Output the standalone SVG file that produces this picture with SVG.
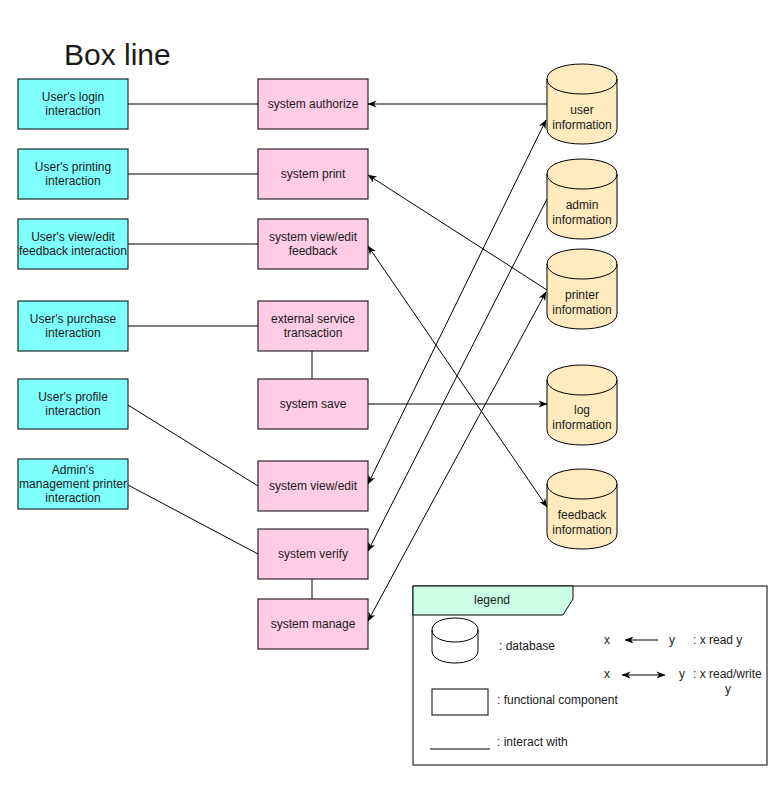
<svg xmlns="http://www.w3.org/2000/svg" xmlns:xlink="http://www.w3.org/1999/xlink" width="771" height="807" viewBox="0 0 771 807">
<style>
text{font-family:"Liberation Sans",Arial,sans-serif;font-size:12px;fill:#1a1a1a;text-anchor:middle}
.ui{fill:#80FFFF;stroke:#000;stroke-width:1}
.fn{fill:#FFCCE6;stroke:#000;stroke-width:1}
.db{fill:#FFEBBF;stroke:#000;stroke-width:1}
.ln{fill:none;stroke:#000;stroke-width:1}
.lt{text-anchor:start}
</style>
<defs>
<marker id="ah" viewBox="0 0 10 10" refX="9.5" refY="5" markerWidth="9" markerHeight="9" markerUnits="userSpaceOnUse" orient="auto-start-reverse">
<path d="M0,1 L10,5 L0,9 L3,5 Z" fill="#000"/>
</marker>
<g id="cyl">
<path d="M0,15 C0,-5 70,-5 70,15 L70,65 C70,85 0,85 0,65 Z" class="db"/>
<path d="M0,15 C0,35 70,35 70,15" class="ln"/>
</g>
</defs>
<rect width="771" height="807" fill="#fff"/>
<text x="64" y="65" class="lt" style="font-size:30px">Box line</text>

<g id="connectors">
<line x1="128" y1="104" x2="258" y2="104" class="ln"/>
<line x1="128" y1="174" x2="258" y2="174" class="ln"/>
<line x1="128" y1="244" x2="258" y2="244" class="ln"/>
<line x1="128" y1="326" x2="258" y2="326" class="ln"/>
<line x1="128" y1="405" x2="258" y2="486" class="ln"/>
<line x1="128" y1="485" x2="258" y2="554" class="ln"/>
<line x1="312" y1="351" x2="312" y2="379" class="ln"/>
<line x1="312" y1="579" x2="312" y2="599" class="ln"/>
<line x1="547" y1="104" x2="368" y2="104" class="ln" marker-end="url(#ah)"/>
<line x1="547" y1="290" x2="368" y2="175" class="ln" marker-end="url(#ah)"/>
<line x1="368" y1="246" x2="547" y2="507" class="ln" marker-start="url(#ah)" marker-end="url(#ah)"/>
<line x1="368" y1="404" x2="547" y2="404" class="ln" marker-end="url(#ah)"/>
<line x1="368" y1="484" x2="546" y2="120" class="ln" marker-start="url(#ah)" marker-end="url(#ah)"/>
<line x1="547" y1="199" x2="368" y2="551" class="ln" marker-end="url(#ah)"/>
<line x1="368" y1="621" x2="546" y2="292" class="ln" marker-start="url(#ah)" marker-end="url(#ah)"/>
</g>

<g id="ui-login"><rect x="18" y="79" width="110" height="50" class="ui"/><text x="73" y="101">User's login</text><text x="73" y="115">interaction</text></g>
<g id="ui-print"><rect x="18" y="149" width="110" height="50" class="ui"/><text x="73" y="171">User's printing</text><text x="73" y="185">interaction</text></g>
<g id="ui-feedback"><rect x="18" y="219" width="110" height="50" class="ui"/><text x="73" y="241">User's view/edit</text><text x="73" y="255" textLength="108" lengthAdjust="spacingAndGlyphs">feedback interaction</text></g>
<g id="ui-purchase"><rect x="18" y="301" width="110" height="50" class="ui"/><text x="73" y="323">User's purchase</text><text x="73" y="337">interaction</text></g>
<g id="ui-profile"><rect x="18" y="379" width="110" height="50" class="ui"/><text x="73" y="401">User's profile</text><text x="73" y="415">interaction</text></g>
<g id="ui-admin"><rect x="18" y="459" width="110" height="50" class="ui"/><text x="73" y="474">Admin's</text><text x="73" y="488" textLength="108" lengthAdjust="spacingAndGlyphs">management printer</text><text x="73" y="502">interaction</text></g>

<g id="sys-authorize"><rect x="258" y="79" width="110" height="50" class="fn"/><text x="313" y="108">system authorize</text></g>
<g id="sys-print"><rect x="258" y="149" width="110" height="50" class="fn"/><text x="313" y="178">system print</text></g>
<g id="sys-feedback"><rect x="258" y="219" width="110" height="50" class="fn"/><text x="313" y="241">system view/edit</text><text x="313" y="255">feedback</text></g>
<g id="ext-transaction"><rect x="258" y="301" width="110" height="50" class="fn"/><text x="313" y="323">external service</text><text x="313" y="337">transaction</text></g>
<g id="sys-save"><rect x="258" y="379" width="110" height="50" class="fn"/><text x="313" y="408">system save</text></g>
<g id="sys-viewedit"><rect x="258" y="461" width="110" height="50" class="fn"/><text x="313" y="490">system view/edit</text></g>
<g id="sys-verify"><rect x="258" y="529" width="110" height="50" class="fn"/><text x="313" y="558">system verify</text></g>
<g id="sys-manage"><rect x="258" y="599" width="110" height="50" class="fn"/><text x="313" y="628">system manage</text></g>

<g id="db-user"><use xlink:href="#cyl" href="#cyl" x="547" y="64"/><text x="582" y="114">user</text><text x="582" y="129">information</text></g>
<g id="db-admin"><use xlink:href="#cyl" href="#cyl" x="547" y="159"/><text x="582" y="209">admin</text><text x="582" y="224">information</text></g>
<g id="db-printer"><use xlink:href="#cyl" href="#cyl" x="547" y="249"/><text x="582" y="299">printer</text><text x="582" y="314">information</text></g>
<g id="db-log"><use xlink:href="#cyl" href="#cyl" x="547" y="365"/><text x="582" y="414">log</text><text x="582" y="429">information</text></g>
<g id="db-feedback"><use xlink:href="#cyl" href="#cyl" x="547" y="469"/><text x="582" y="519">feedback</text><text x="582" y="534">information</text></g>

<g id="legend">
<rect x="413" y="586" width="354" height="179" fill="#fff" stroke="#000"/>
<path d="M413,586 L573,586 L573,599 L563,615 L413,615 Z" fill="#CCFFE6" stroke="#000"/>
<text x="492" y="604">legend</text>
<path d="M432,630 C432,614 478,614 478,630 L478,651 C478,667 432,667 432,651 Z" fill="#fff" stroke="#000"/>
<path d="M432,630 C432,646 478,646 478,630" class="ln"/>
<text x="499" y="650" class="lt">: database</text>
<rect x="432" y="689" width="56" height="26" fill="#fff" stroke="#000"/>
<text x="497" y="704" class="lt">: functional component</text>
<line x1="430" y1="749" x2="490" y2="749" class="ln"/>
<text x="497" y="746" class="lt">: interact with</text>
<text x="607" y="644">x</text>
<line x1="658" y1="640" x2="625" y2="640" class="ln" marker-end="url(#ah)"/>
<text x="672" y="644">y</text>
<text x="693" y="644" class="lt">: x read y</text>
<text x="607" y="678">x</text>
<line x1="622" y1="675" x2="665" y2="675" class="ln" marker-start="url(#ah)" marker-end="url(#ah)"/>
<text x="682" y="678">y</text>
<text x="693" y="678" class="lt">: x read/write</text>
<text x="728" y="693">y</text>
</g>
</svg>
